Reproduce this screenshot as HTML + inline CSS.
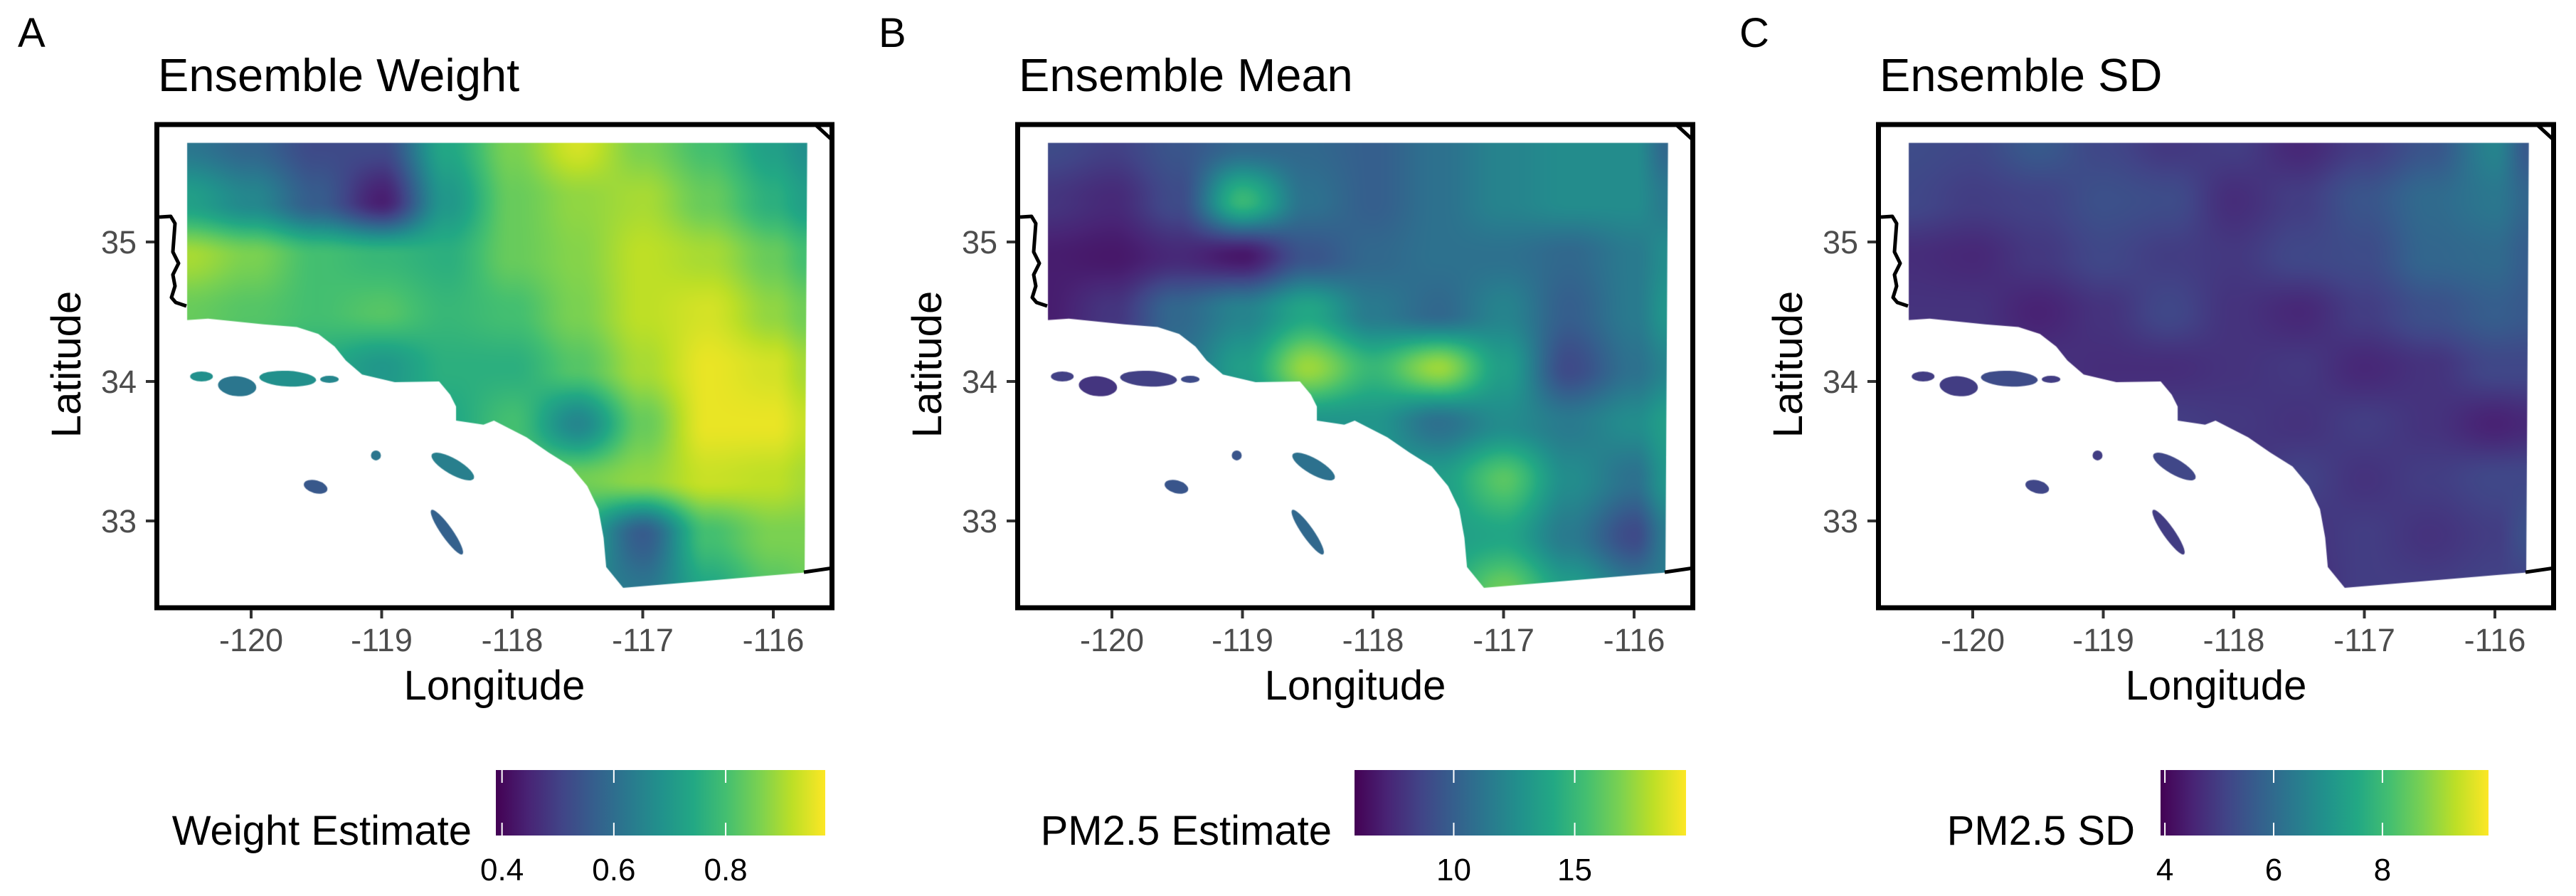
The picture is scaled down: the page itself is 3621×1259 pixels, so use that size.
<!DOCTYPE html>
<html><head><meta charset="utf-8">
<style>
html,body{margin:0;padding:0;background:#fff;}
#wrap{position:relative;width:3621px;height:1259px;overflow:hidden;font-family:"Liberation Sans",Arial,sans-serif;}
canvas{position:absolute;}
svg{position:absolute;left:0;top:0;}
</style></head>
<body>
<div id="wrap">
<canvas id="cA" width="956" height="685" style="left:217px;top:172px"></canvas>
<canvas id="cB" width="956" height="685" style="left:1427px;top:172px"></canvas>
<canvas id="cC" width="956" height="685" style="left:2637px;top:172px"></canvas>
<svg id="sv" width="3621" height="1259"></svg>
</div>
<script>
// ---- data ----
const gridLons = [-120.5,-120,-119.5,-119,-118.5,-118,-117.5,-117,-116.5,-116,-115.75];
const gridLats = [35.7,35.3,34.9,34.5,34.1,33.7,33.3,32.9,32.5];
const weightGrid = [
 [0.62,0.58,0.52,0.52,0.74,0.86,0.94,0.86,0.80,0.72,0.68],
 [0.72,0.66,0.56,0.44,0.70,0.84,0.88,0.90,0.84,0.76,0.72],
 [0.90,0.86,0.80,0.78,0.76,0.84,0.87,0.92,0.90,0.84,0.80],
 [0.84,0.82,0.80,0.82,0.78,0.80,0.86,0.92,0.94,0.88,0.85],
 [0.78,0.78,0.75,0.70,0.76,0.76,0.82,0.90,0.96,0.94,0.90],
 [0.75,0.75,0.72,0.72,0.74,0.80,0.66,0.84,0.96,0.96,0.93],
 [0.75,0.75,0.75,0.75,0.82,0.82,0.85,0.88,0.93,0.92,0.90],
 [0.75,0.75,0.75,0.75,0.78,0.78,0.74,0.56,0.80,0.86,0.86],
 [0.72,0.72,0.72,0.72,0.72,0.72,0.66,0.62,0.74,0.82,0.84]
];
const meanGrid = [
 [9,8.5,9.5,10.5,10.5,10,11,12,12.5,12.5,10.5],
 [8,7.5,9,15,11,10,11,12,12.5,12.5,11.5],
 [7,6.8,7.5,6.8,9.5,10.5,11,11,10.5,11.5,12.5],
 [7,8,10.5,12,14,11.5,10.5,12,10,11.5,13],
 [8,9,11,13.5,17.5,15,17.5,13.5,9,11,12],
 [9,10,11,12,13,13,11,12.5,11.5,12.5,13.5],
 [11,11,11,11,13,13,13.5,16,12.5,11,13],
 [12,12,12,12,13,13,13.5,14,11.5,9,11.5],
 [13,13,13,13,13,13,14,16.5,13.5,11.5,11.5]
];
const sdGrid = [
 [5.3,5.2,5.6,5.2,4.9,5.0,4.6,5.0,5.5,6.6,5.6],
 [5.2,5.0,5.1,5.4,5.3,4.7,5.0,5.5,6.0,6.3,5.9],
 [4.7,4.6,4.9,5.2,5.0,4.9,5.2,5.3,5.9,6.0,5.7],
 [4.8,4.8,4.5,4.8,5.2,4.8,4.6,5.0,5.4,5.7,5.6],
 [5.0,5.0,4.8,4.7,4.7,4.8,4.9,4.6,4.8,5.2,5.2],
 [5.0,5.0,4.8,4.9,5.0,4.9,4.8,5.0,4.8,4.5,4.6],
 [5.0,5.0,4.9,5.0,5.1,4.7,5.1,4.8,5.0,5.2,5.2],
 [5.0,5.0,5.0,5.0,5.0,5.2,4.8,5.0,4.8,5.0,5.4],
 [5.0,5.0,5.0,5.0,5.0,5.0,4.7,5.0,5.0,5.1,5.1]
];
const weightIslands = [0.68,0.62,0.68,0.66,0.62,0.55,0.64,0.57];
const meanIslands = [8.5,8,8.5,9,9.5,9.5,11,10.5];
const sdIslands = [5,5,5.3,5,5,5.2,5.2,5];
const lonTicks = [-120,-119,-118,-117,-116];
const latTicks = [35,34,33];
const weightTicks = [0.4,0.6,0.8];
const meanTicks = [10,15];
const sdTicks = [4,6,8];
const weightRange = [0.389,0.978];
const meanRange = [5.9,19.6];
const sdRange = [3.92,9.95];
const panelTitles = ["Ensemble Weight","Ensemble Mean","Ensemble SD"];
const panelLetters = ["A","B","C"];
const legendTitles = ["Weight Estimate","PM2.5 Estimate","PM2.5 SD"];

// ---- geometry ----
const coast = [[-120.49,35.71],[-115.74,35.71],[-115.76,32.63],[-117.15,32.52],[-117.28,32.67],[-117.30,32.88],[-117.34,33.085],[-117.425,33.25],[-117.55,33.39],[-117.72,33.49],[-117.89,33.60],[-118.14,33.72],[-118.22,33.69],[-118.43,33.72],[-118.43,33.82],[-118.476,33.905],[-118.56,34.0],[-118.90,33.995],[-119.15,34.05],[-119.275,34.15],[-119.36,34.25],[-119.485,34.34],[-119.65,34.39],[-119.905,34.41],[-120.33,34.45],[-120.49,34.44]];
const islands = [[-120.38,34.036,16,7,0],[-120.107,33.966,27,14,5],[-119.72,34.02,40,11,3],[-119.40,34.015,13,5,0],[-119.044,33.47,7,7,0],[-119.506,33.245,17,9,15],[-118.455,33.39,34,11,30],[-118.50,32.92,38,8,55]];
function xOf(lon){return 353+(lon+120)*183.5;}
function yOf(lat){return 536-(lat-34)*196;}

const vir=['#440154','#482475','#414487','#355f8d','#2a788e','#21918c','#22a884','#44bf70','#7ad151','#bddf26','#fde725'].map(h=>[parseInt(h.substr(1,2),16),parseInt(h.substr(3,2),16),parseInt(h.substr(5,2),16)]);
function viridis(t){t=Math.max(0,Math.min(1,t));const f=t*10,i=Math.min(9,Math.floor(f)),u=f-i;return vir[i].map((c,k)=>Math.round(c+(vir[i+1][k]-c)*u));}
function sample(grid,lon,lat){
  let ci=0;
  for(ci=0;ci<gridLons.length-2&&lon>gridLons[ci+1];ci++);
  let u=(lon-gridLons[ci])/(gridLons[ci+1]-gridLons[ci]);u=Math.max(0,Math.min(1,u));
  let ri=0;for(ri=0;ri<gridLats.length-2&&lat<gridLats[ri+1];ri++);
  let v=(gridLats[ri]-lat)/(gridLats[ri]-gridLats[ri+1]);v=Math.max(0,Math.min(1,v));
  u=u*u*(3-2*u);v=v*v*(3-2*v);
  const a=grid[ri][ci],b=grid[ri][ci+1],c=grid[ri+1][ci],d=grid[ri+1][ci+1];
  return a*(1-u)*(1-v)+b*u*(1-v)+c*(1-u)*v+d*u*v;
}
function drawRaster(id,grid,range,islVals){
  const cv=document.getElementById(id),ctx=cv.getContext('2d');
  const off=document.createElement('canvas');off.width=956;off.height=685;
  const oc=off.getContext('2d');const img=oc.createImageData(956,685);
  for(let py=0;py<685;py++){const lat=34+(536-(py+172))/196;
    for(let px=0;px<956;px++){const lon=-120+((px+217)-353)/183.5;
      const val=sample(grid,lon,lat);const c=viridis((val-range[0])/(range[1]-range[0]));
      const k=(py*956+px)*4;img.data[k]=c[0];img.data[k+1]=c[1];img.data[k+2]=c[2];img.data[k+3]=255;}}
  oc.putImageData(img,0,0);
  ctx.save();ctx.beginPath();
  coast.forEach((p,i)=>{const x=xOf(p[0])-217,y=yOf(p[1])-172;i?ctx.lineTo(x,y):ctx.moveTo(x,y);});
  ctx.closePath();ctx.clip();ctx.drawImage(off,0,0);ctx.restore();
  islands.forEach((is,i)=>{const c=viridis((islVals[i]-range[0])/(range[1]-range[0]));
    ctx.fillStyle='rgb('+c.join(',')+')';ctx.beginPath();
    ctx.ellipse(xOf(is[0])-217,yOf(is[1])-172,is[2],is[3],is[4]*Math.PI/180,0,Math.PI*2);ctx.fill();});
}
drawRaster('cA',weightGrid,weightRange,weightIslands);
drawRaster('cB',meanGrid,meanRange,meanIslands);
drawRaster('cC',sdGrid,sdRange,sdIslands);

// ---- svg overlay ----
const NS='http://www.w3.org/2000/svg',sv=document.getElementById('sv');
function mk(tag,attrs,parent,txt){const e=document.createElementNS(NS,tag);for(const k in attrs)e.setAttribute(k,attrs[k]);if(txt!==undefined)e.textContent=txt;(parent||sv).appendChild(e);return e;}
const defs=mk('defs',{});
const grad=mk('linearGradient',{id:'vg',x1:'0',x2:'1',y1:'0',y2:'0'},defs);
vir.forEach((c,i)=>mk('stop',{offset:(i*10)+'%','stop-color':'rgb('+c.join(',')+')'},grad));
const legendBars=[[697,1160],[694,1160],[617,1078]];
const legendTickSets=[weightTicks,meanTicks,sdTicks];
const ranges=[weightRange,meanRange,sdRange];
const legendTitleRight=[663,662,581];
for(let p=0;p<3;p++){
  const ox=p*1210;
  const g=mk('g',{transform:'translate('+ox+',0)'});
  
  
  const lt=mk('text',{x:25,y:66,'font-size':58,fill:'#000'},g,panelLetters[p]);
  
  
  const tt=mk('text',{x:222,y:128,'font-size':65,fill:'#000'},g,panelTitles[p]);
  
  
  const b1=mk('path',{d:'M 224 305 L 240 304 L 246 314 L 243 354 L 251 370 L 243 386 L 246 402 L 241 418 L 247 425 L 262 430',fill:'none',stroke:'#000','stroke-width':5,'stroke-linejoin':'round'},g);
  
  
  const b2=mk('path',{d:'M 1146 175 L 1170 197',fill:'none',stroke:'#000','stroke-width':5},g);
  
  
  const b3=mk('path',{d:'M 1130 804 L 1171 798',fill:'none',stroke:'#000','stroke-width':5},g);
  
  
  const fr=mk('rect',{x:220.5,y:175,width:949,height:679,fill:'none',stroke:'#000','stroke-width':7},g);
  
  
  lonTicks.forEach(v=>{
    const x=xOf(v);
    const tk=mk('line',{x1:x,x2:x,y1:857,y2:869,stroke:'#333','stroke-width':4},g);
    
    
    const tl=mk('text',{x:x,y:915,'font-size':45,fill:'#4d4d4d','text-anchor':'middle'},g,String(v));
    
    
  });
  latTicks.forEach(v=>{
    const y=yOf(v);
    const tk=mk('line',{x1:205,x2:217,y1:y,y2:y,stroke:'#333','stroke-width':4},g);
    
    
    const tl=mk('text',{x:192,y:y+16,'font-size':45,fill:'#4d4d4d','text-anchor':'end'},g,String(v));
    
    
  });
  const xt=mk('text',{x:695,y:983,'font-size':58,fill:'#000','text-anchor':'middle'},g,'Longitude');
  
  
  const yt=mk('text',{x:0,y:0,'font-size':58,fill:'#000','text-anchor':'middle',transform:'translate(113,512) rotate(-90)'},g,'Latitude');
  
  
  const [bl,br]=legendBars[p];const rg=ranges[p];
  const lg=mk('text',{x:legendTitleRight[p],y:1187,'font-size':58,fill:'#000','text-anchor':'end'},g,legendTitles[p]);
  
  
  const bar=mk('rect',{x:bl,y:1082,width:br-bl,height:92,fill:'url(#vg)'},g);
  
  
  legendTickSets[p].forEach(v=>{
    const x=bl+(v-rg[0])/(rg[1]-rg[0])*(br-bl);
    const t1=mk('line',{x1:x,x2:x,y1:1082,y2:1100,stroke:'#fff','stroke-width':2},g);
    
    
    const t2=mk('line',{x1:x,x2:x,y1:1156,y2:1174,stroke:'#fff','stroke-width':2},g);
    
    
    const tl=mk('text',{x:x,y:1237,'font-size':44,fill:'#000','text-anchor':'middle'},g,String(v));
    
    
  });
}
</script>
</body></html>
